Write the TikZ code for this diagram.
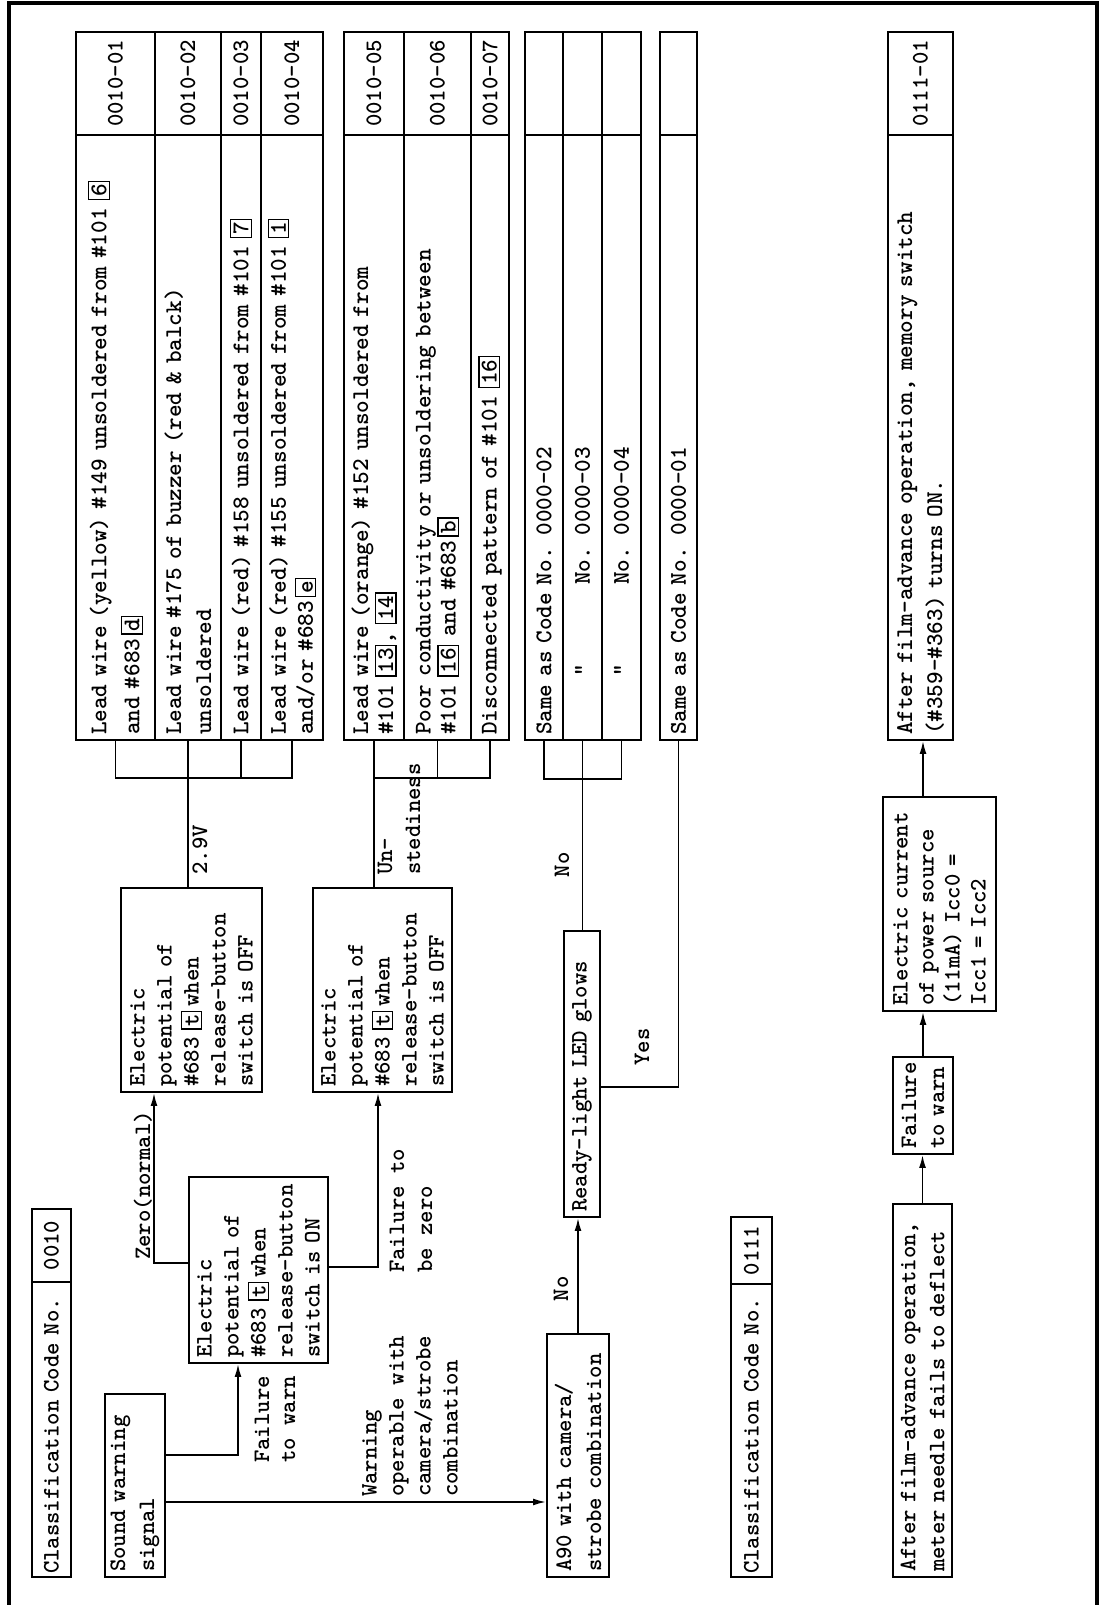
\documentclass[tikz,border=0pt]{standalone}
\usetikzlibrary{arrows.meta}
\setlength\fboxsep{2pt}
\setlength\fboxrule{1.3pt}
\newcommand\bxc[1]{\fbox{\vphantom{0}#1}}
\newcommand\tsz[1]{\fontsize{23.6}{#1}\selectfont\ttfamily\bfseries}
\newcommand\tbz[1]{\fontsize{24}{#1}\selectfont\ttfamily\bfseries}
\begin{document}
\begin{tikzpicture}[x=1pt, y=1pt, rotate=90, transform shape,
  box/.style={draw, line width=2pt, inner xsep=5pt, inner ysep=2pt, align=left, anchor=north west, font=\tsz{27}},
  tbox/.style={box, text width=595pt, font=\tbz{27}},
  cbox/.style={draw, line width=2pt, inner sep=2pt, align=center, anchor=north west, font=\tsz{27}},
  lbl/.style={inner sep=0pt, align=left, anchor=west, font=\tsz{27}},
  conn/.style={line width=1.7pt},
  arr/.style={conn, -{Latex[length=13pt,width=7pt]}},
  frame/.style={line width=4pt}]
\useasboundingbox (0,0) rectangle (1605,-1110);
% frame
\draw[frame] (0,-9) -- (1602,-9) -- (1602,-1097) -- (0,-1097);

% classification 0010
\node[box, inner xsep=3pt, text width=289pt, minimum height=39pt] (cls1) at (27,-31) {Classification Code No.};
\node[cbox, minimum width=73pt, minimum height=39pt] (cls1c) at (322,-31) {0010};

% left column boxes
\node[box, text width=173pt, minimum height=60pt, font=\tsz{29}] (sound) at (27,-104) {Sound warning\\signal};
\node[box, text width=176pt, minimum height=139pt] (on) at (241,-188) {Electric\\potential of\\\#683 \bxc{t}\,when\\release-button\\switch is ON};
\node[box, text width=194pt, minimum height=141pt] (off1) at (512,-120) {Electric\\potential of\\\#683 \bxc{t}\,when\\release-button\\switch is OFF};
\node[box, text width=194pt, minimum height=139pt] (off2) at (512,-312) {Electric\\potential of\\\#683 \bxc{t}\,when\\release-button\\switch is OFF};
\node[box, text width=233pt, minimum height=62pt, font=\tsz{30}] (a90) at (27,-546) {A90 with camera/\\strobe combination};
\node[box, text width=276pt, minimum height=36pt] (ready) at (387,-563) {Ready-light LED glows};

% classification 0111
\node[box, inner xsep=3pt, text width=287pt, minimum height=41pt] (cls2) at (27,-730) {Classification Code No.};
\node[cbox, minimum width=67pt, minimum height=41pt] (cls2c) at (320,-730) {0111};

\node[box, text width=363pt, minimum height=59pt, font=\tsz{29}] (aft) at (27,-892) {After film-advance operation,\\meter needle fails to deflect};
\node[box, text width=87pt, minimum height=60pt, font=\tsz{28}] (fail) at (450,-892) {Failure\\to warn};
\node[box, text width=204pt, minimum height=113pt, font=\tsz{26}] (cur) at (593,-882) {Electric current\\of power source\\(11mA) Icc0 =\\Icc1 = Icc2};

% table 1
\node[tbox, minimum height=79pt, font=\tbz{33}] (d11) at (864,-75) {Lead wire (yellow) \#149 unsoldered from \#101 \bxc{6}\\and \#683\,\bxc{d}};
\node[cbox, minimum width=103pt, minimum height=79pt] (c11) at (1469,-75) {0010-01};
\node[tbox, minimum height=66pt, font=\tbz{30}] (d12) at (864,-154) {Lead wire \#175 of buzzer (red \& balck)\\unsoldered};
\node[cbox, minimum width=103pt, minimum height=66pt] (c12) at (1469,-154) {0010-02};
\node[tbox, minimum height=40pt] (d13) at (864,-220) {Lead wire (red) \#158 unsoldered from \#101 \bxc{7}};
\node[cbox, minimum width=103pt, minimum height=40pt] (c13) at (1469,-220) {0010-03};
\node[tbox, minimum height=62pt] (d14) at (864,-260) {Lead wire (red) \#155 unsoldered from \#101 \bxc{1}\\and/or \#683\,\bxc{e}};
\node[cbox, minimum width=103pt, minimum height=62pt] (c14) at (1469,-260) {0010-04};

% table 2
\node[tbox, minimum height=60pt, font=\tbz{25}] (d21) at (864,-343) {Lead wire (orange) \#152 unsoldered from\\\#101 \bxc{13}, \bxc{14}};
\node[cbox, minimum width=103pt, minimum height=60pt] (c21) at (1469,-343) {0010-05};
\node[tbox, minimum height=67pt, font=\tbz{25}] (d22) at (864,-403) {Poor conductivity or unsoldering between\\\#101 \bxc{16} and \#683\,\bxc{b}};
\node[cbox, minimum width=103pt, minimum height=67pt] (c22) at (1469,-403) {0010-06};
\node[tbox, minimum height=38pt] (d23) at (864,-470) {Disconnected pattern of \#101 \bxc{16}};
\node[cbox, minimum width=103pt, minimum height=38pt] (c23) at (1469,-470) {0010-07};

% table 3
\node[tbox, minimum height=38pt] (d31) at (864,-524) {Same as Code No. 0000-02};
\node[cbox, minimum width=103pt, minimum height=38pt] (c31) at (1469,-524) {};
\node[tbox, minimum height=39pt] (d32) at (864,-562) {\phantom{Same }\char34\phantom{s Code }No. 0000-03};
\node[cbox, minimum width=103pt, minimum height=39pt] (c32) at (1469,-562) {};
\node[tbox, minimum height=39pt] (d33) at (864,-601) {\phantom{Same }\char34\phantom{s Code }No. 0000-04};
\node[cbox, minimum width=103pt, minimum height=39pt] (c33) at (1469,-601) {};

% table 4
\node[tbox, minimum height=37pt] (d41) at (864,-659) {Same as Code No. 0000-01};
\node[cbox, minimum width=103pt, minimum height=37pt] (c41) at (1469,-659) {};

% table 5
\node[tbox, minimum height=65pt, font=\tbz{30}] (d51) at (864,-887) {After film-advance operation, memory switch\\(\#359-\#363) turns ON.};
\node[cbox, minimum width=103pt, minimum height=65pt] (c51) at (1469,-887) {0111-01};

% labels
\node[lbl, anchor=center] (v29) at (755,-200) {2.9V};
\node[lbl, font=\tsz{28}] (unst) at (730,-399) {Un-\\stediness};
\node[lbl, anchor=center] (no1) at (740,-562) {No};
\node[lbl, anchor=center] (yes) at (558,-642) {Yes};
\node[lbl, font=\tsz{26}] (ftw) at (142,-275) {Failure\\to warn};
\node[lbl, font=\tsz{27}] (warn) at (108,-410) {Warning\\operable with\\camera/strobe\\combination};
\node[lbl] (zero) at (345,-143) {Zero(normal)};
\node[lbl, font=\tsz{28}] (fbz) at (332,-411) {Failure to\\be zero};
\node[lbl, anchor=center] (no2) at (316,-561) {No};

% bracket table 1
\coordinate (j1) at (827,-100);
\draw[conn] (d11.west) -- (d11.west -| j1) -- (d14.west -| j1) -- (d14.west);
\draw[conn] (d13.west) -- (d13.west -| j1);
\draw[conn] (d12.west) -- (d12.west -| off1.east);
% bracket table 2
\coordinate (j2) at (827,-400);
\draw[conn] (d21.west) -- (d21.west -| off2.east);
\draw[conn] (d21.west -| j2) -- (d23.west -| j2) -- (d23.west);
\draw[conn] (d22.west) -- (d22.west -| j2);
% bracket table 3
\coordinate (j3) at (826,-600);
\draw[conn] (d32.west) -- (d32.west -| ready.east);
\draw[conn] (d31.west) -- (d31.west -| j3) -- (d33.west -| j3) -- (d33.west);
% yes path
\coordinate (yb) at (518,-640);
\draw[conn] (ready.south -| yb) -- (d41.west -| yb) -- (d41.west);

% arrows
\coordinate (fw) at (150,-238);
\draw[arr] (sound.south -| fw) -- (fw) -- (fw -| on.west);
\coordinate (wl) at (103,-300);
\draw[arr] (sound.south -| wl) -- (a90.north -| wl);
\coordinate (zn) at (342,-154);
\draw[arr] (on.north -| zn) -- (zn) -- (zn -| off1.west);
\coordinate (fz) at (338,-378);
\draw[arr] (on.south -| fz) -- (fz) -- (fz -| off2.west);
\draw[arr] (a90.east) -- (a90.east -| ready.west);
\draw[arr] (aft.east) -- (aft.east -| fail.west);
\draw[arr] (fail.east) -- (fail.east -| cur.west);
\draw[arr] (fail.east -| cur.east) -- (fail.east -| d51.west);
\end{tikzpicture}
\end{document}
